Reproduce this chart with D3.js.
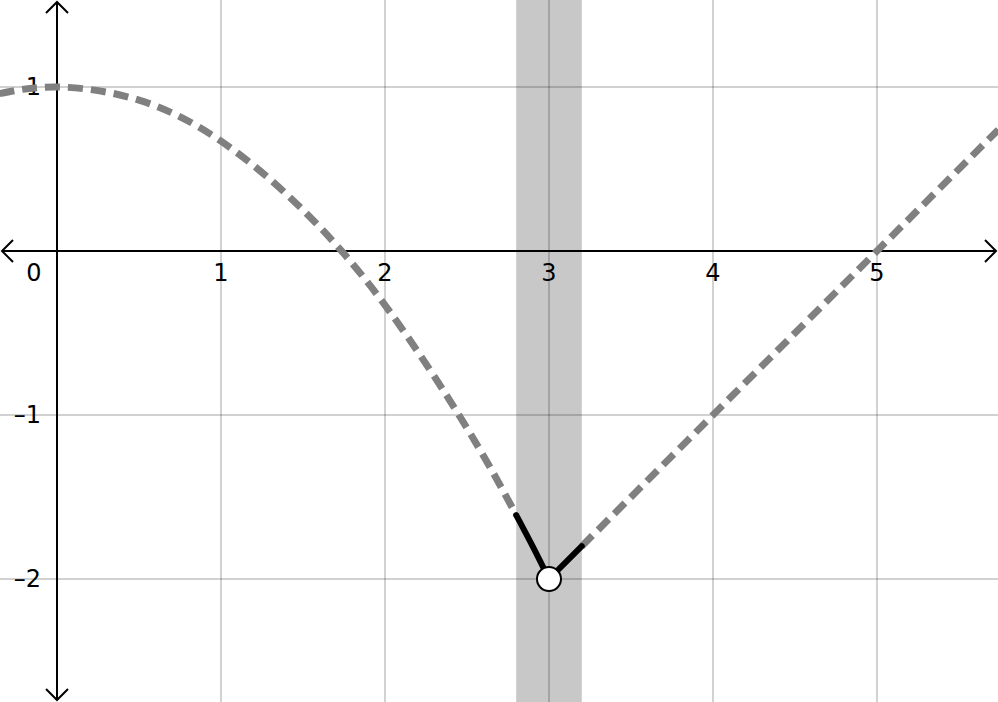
<!DOCTYPE html>
<html>
<head>
<meta charset="utf-8">
<script src="https://cdn.jsdelivr.net/npm/d3@7"></script>
<style>
  html, body { margin: 0; padding: 0; background: #fff; }
  svg { display: block; }
  text { font-family: "DejaVu Sans", sans-serif; }
</style>
</head>
<body>
<svg id="chart" width="998" height="702"></svg>
<script>
// values
const xTicks = [1, 2, 3, 4, 5];
const yTicks = [1, -1, -2];
const xTickLabels = ['1', '2', '3', '4', '5'];
const yTickLabels = ['1', '–1', '–2'];
const originLabel = '0';

// dashed part left of the band (parabola-like)
const leftCurve = [
  [-0.35, 0.96], [0, 1], [0.5, 0.92], [1, 0.67], [1.5, 0.25],
  [2, -0.33], [2.5, -1.08], [2.8, -1.61]
];
// dashed part right of the band (straight)
const rightCurve = [[3.2, -1.8], [4, -1], [5, 0], [5.74, 0.74]];
// solid pieces inside the band
const solidLeft = [[2.8, -1.61], [2.9, -1.80], [3, -2]];
const solidRight = [[3, -2], [3.2, -1.8]];
const bandRange = [2.8, 3.2];
const openPoint = [3, -2];

const width = 998, height = 702;
const svg = d3.select('#chart');

const x = d3.scaleLinear().domain([-0.3476, 5.738]).range([0, width]);
const y = d3.scaleLinear().domain([1.5305, -2.75]).range([0, height]);

// shaded band
svg.append('rect')
  .attr('x', x(bandRange[0]))
  .attr('y', 0)
  .attr('width', x(bandRange[1]) - x(bandRange[0]))
  .attr('height', height)
  .attr('fill', '#c8c8c8');

// grid
const grid = svg.append('g').attr('stroke', '#000').attr('stroke-opacity', 0.18).attr('stroke-width', 2);
grid.selectAll('line.v').data(xTicks).enter().append('line')
  .attr('x1', d => x(d)).attr('x2', d => x(d))
  .attr('y1', 0).attr('y2', height);
grid.selectAll('line.h').data(yTicks).enter().append('line')
  .attr('y1', d => y(d)).attr('y2', d => y(d))
  .attr('x1', 0).attr('x2', width);

// axes with open arrow heads
const ax = svg.append('g').attr('stroke', '#000').attr('stroke-width', 2).attr('fill', 'none');
const x0 = x(0), y0 = y(0), a = 11;
ax.append('line').attr('x1', 2).attr('x2', width - 2).attr('y1', y0).attr('y2', y0);
ax.append('line').attr('x1', x0).attr('x2', x0).attr('y1', 2).attr('y2', height - 2);
ax.append('path').attr('d', `M${2 + a},${y0 - a}L2,${y0}L${2 + a},${y0 + a}`);
ax.append('path').attr('d', `M${width - 2 - a},${y0 - a}L${width - 2},${y0}L${width - 2 - a},${y0 + a}`);
ax.append('path').attr('d', `M${x0 - a},${2 + a}L${x0},2L${x0 + a},${2 + a}`);
ax.append('path').attr('d', `M${x0 - a},${height - 2 - a}L${x0},${height - 2}L${x0 + a},${height - 2 - a}`);

// tick labels
svg.selectAll('text.xl').data(xTicks).enter().append('text')
  .attr('x', d => x(d)).attr('y', y0 + 23)
  .attr('text-anchor', 'middle').attr('dominant-baseline', 'middle')
  .attr('font-size', 24)
  .text((d, i) => xTickLabels[i]);
svg.append('text')
  .attr('x', x0 - 23).attr('y', y0 + 23)
  .attr('text-anchor', 'middle').attr('dominant-baseline', 'middle')
  .attr('font-size', 24).text(originLabel);
svg.selectAll('text.yl').data(yTicks).enter().append('text')
  .attr('x', x0 - 16).attr('y', d => y(d) + 1)
  .attr('text-anchor', 'end').attr('dominant-baseline', 'middle')
  .attr('font-size', 24)
  .text((d, i) => yTickLabels[i]);

// curves
const line = d3.line().x(d => x(d[0])).y(d => y(d[1]));
const smooth = d3.line().x(d => x(d[0])).y(d => y(d[1])).curve(d3.curveNatural);

svg.append('path').attr('d', smooth(leftCurve))
  .attr('fill', 'none').attr('stroke', '#808080').attr('stroke-width', 7)
  .attr('stroke-dasharray', '15 8');
svg.append('path').attr('d', line(rightCurve))
  .attr('fill', 'none').attr('stroke', '#808080').attr('stroke-width', 7)
  .attr('stroke-dasharray', '15 8');

[solidLeft, solidRight].forEach(seg => {
  svg.append('path').attr('d', smooth(seg))
    .attr('fill', 'none').attr('stroke', '#000').attr('stroke-width', 6)
    .attr('stroke-linecap', 'round');
});

svg.append('circle')
  .attr('cx', x(openPoint[0])).attr('cy', y(openPoint[1]))
  .attr('r', 12).attr('fill', '#fff').attr('stroke', '#000').attr('stroke-width', 2);
</script>
</body>
</html>
